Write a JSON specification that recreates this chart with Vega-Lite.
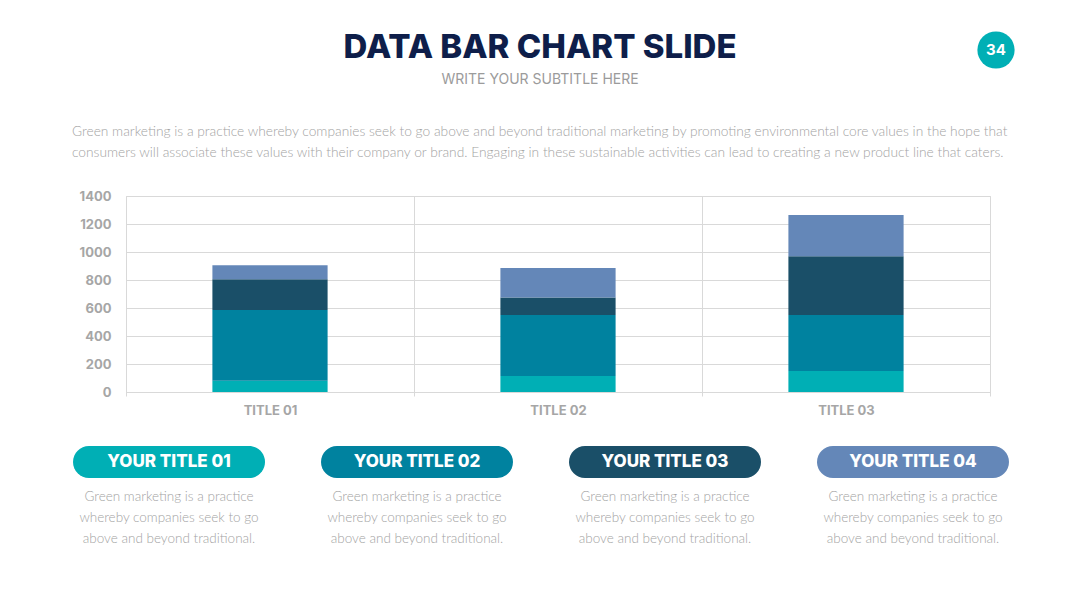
{
  "$schema": "https://vega.github.io/schema/vega-lite/v6.json",
  "background": "#ffffff",
  "padding": {"left": 71, "top": 31, "right": 64, "bottom": 40},
  "bounds": "flush",
  "spacing": 20,
  "title": {
    "text": "DATA BAR CHART SLIDE",
    "subtitle": "WRITE YOUR SUBTITLE HERE",
    "anchor": "middle",
    "frame": "bounds",
    "font": "Inter",
    "fontSize": 33,
    "fontWeight": 800,
    "color": "#0E1E4A",
    "subtitleFont": "Inter",
    "subtitleFontSize": 14,
    "subtitleFontWeight": 400,
    "subtitleColor": "#9B9B9B",
    "subtitlePadding": 8,
    "offset": -56,
    "dx": -3
  },
  "config": {
    "view": {"stroke": null},
    "axis": {
      "labelFont": "Inter",
      "labelFontWeight": 700,
      "labelFontSize": 13,
      "labelColor": "#A6A6A6",
      "gridColor": "#D9D9D9",
      "domainColor": "#D9D9D9",
      "tickColor": "#D9D9D9",
      "title": null
    }
  },
  "vconcat": [
    {
      "width": 870,
      "height": 126,
      "data": {"values": [{"page": "34"}]},
      "encoding": {
        "x": {"field": "page", "type": "nominal", "axis": null, "scale": {"type": "point", "padding": 0, "align": 1}},
        "y": {"field": "page", "type": "nominal", "axis": null, "scale": {"type": "point", "padding": 0, "align": 0}}
      },
      "layer": [
        {"mark": {"type": "point", "shape": "circle", "filled": true, "size": 1385, "color": "#00AFB5", "opacity": 1}},
        {"mark": {"type": "text", "color": "#ffffff", "font": "Inter", "fontWeight": 700, "fontSize": 15, "baseline": "middle", "align": "center"}, "encoding": {"text": {"field": "page"}}}
      ]
    },
    {
      "width": 864,
      "height": 196,
      "view": {"stroke": "#D9D9D9"},
      "title": {
        "text": [
          "Green marketing is a practice whereby companies seek to go above and beyond traditional marketing by promoting environmental core values in the hope that",
          "consumers will associate these values with their company or brand. Engaging in these sustainable activities can lead to creating a new product line that caters."
        ],
        "anchor": "start",
        "frame": "group",
        "dx": -54,
        "font": "Lato",
        "fontSize": 13.75,
        "fontWeight": 300,
        "color": "#A3A3A3",
        "lineHeight": 21,
        "offset": 30
      },
      "data": {
        "values": [
          {"category": "TITLE 01", "series": "YOUR TITLE 01", "value": 80},
          {"category": "TITLE 01", "series": "YOUR TITLE 02", "value": 505},
          {"category": "TITLE 01", "series": "YOUR TITLE 03", "value": 220},
          {"category": "TITLE 01", "series": "YOUR TITLE 04", "value": 100},
          {"category": "TITLE 02", "series": "YOUR TITLE 01", "value": 115},
          {"category": "TITLE 02", "series": "YOUR TITLE 02", "value": 435},
          {"category": "TITLE 02", "series": "YOUR TITLE 03", "value": 125},
          {"category": "TITLE 02", "series": "YOUR TITLE 04", "value": 210},
          {"category": "TITLE 03", "series": "YOUR TITLE 01", "value": 150},
          {"category": "TITLE 03", "series": "YOUR TITLE 02", "value": 400},
          {"category": "TITLE 03", "series": "YOUR TITLE 03", "value": 420},
          {"category": "TITLE 03", "series": "YOUR TITLE 04", "value": 295}
        ]
      },
      "mark": {"type": "bar", "width": {"band": 0.4}},
      "encoding": {
        "x": {
          "field": "category", "type": "nominal", "sort": null,
          "scale": {"paddingInner": 0, "paddingOuter": 0},
          "axis": {"labelAngle": 0, "tickBand": "extent", "grid": true, "ticks": true, "tickSize": 4, "labelPadding": 8, "domain": true}
        },
        "y": {
          "field": "value", "type": "quantitative", "stack": "zero",
          "scale": {"domain": [0, 1400], "nice": false},
          "axis": {"values": [0, 200, 400, 600, 800, 1000, 1200, 1400], "format": "d", "grid": true, "domain": false, "ticks": false, "labelPadding": 15}
        },
        "color": {
          "field": "series", "type": "nominal",
          "scale": {"domain": ["YOUR TITLE 01", "YOUR TITLE 02", "YOUR TITLE 03", "YOUR TITLE 04"], "range": ["#00AFB5", "#00829F", "#1A4F68", "#6487B8"]},
          "legend": null
        },
        "order": {"field": "series", "type": "ordinal", "sort": "ascending"}
      }
    },
    {
      "width": 830,
      "height": 100,
      "data": {
        "values": [
          {"series": "YOUR TITLE 01", "desc": "Green marketing is a practice\nwhereby companies seek to go\nabove and beyond traditional."},
          {"series": "YOUR TITLE 02", "desc": "Green marketing is a practice\nwhereby companies seek to go\nabove and beyond traditional."},
          {"series": "YOUR TITLE 03", "desc": "Green marketing is a practice\nwhereby companies seek to go\nabove and beyond traditional."},
          {"series": "YOUR TITLE 04", "desc": "Green marketing is a practice\nwhereby companies seek to go\nabove and beyond traditional."}
        ]
      },
      "encoding": {
        "x": {"field": "series", "type": "nominal", "axis": null, "scale": {"type": "point", "padding": 0.1734}}
      },
      "layer": [
        {
          "mark": {"type": "point", "shape": "M-0.8333,-0.1667L0.8333,-0.1667A0.1667,0.1667,0,0,1,0.8333,0.1667L-0.8333,0.1667A0.1667,0.1667,0,0,1,-0.8333,-0.1667Z", "size": 36864, "filled": true, "opacity": 1, "strokeWidth": 0},
          "encoding": {"color": {"field": "series", "type": "nominal", "legend": null}}
        },
        {
          "mark": {"type": "text", "font": "Inter", "fontWeight": 800, "fontSize": 17, "color": "#ffffff", "baseline": "middle", "align": "center"},
          "encoding": {"text": {"field": "series"}}
        },
        {
          "mark": {"type": "text", "font": "Lato", "fontSize": 13.5, "fontWeight": 300, "color": "#A3A3A3", "lineBreak": "\n", "lineHeight": 21, "baseline": "alphabetic", "align": "center", "dy": 39},
          "encoding": {"text": {"field": "desc"}}
        }
      ]
    }
  ]
}
